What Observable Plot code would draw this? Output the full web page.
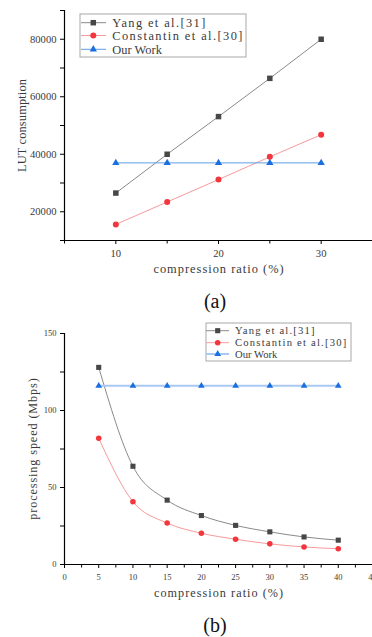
<!DOCTYPE html>
<html><head><meta charset="utf-8">
<script src="https://cdn.jsdelivr.net/npm/d3@7"></script>
<script src="https://cdn.jsdelivr.net/npm/@observablehq/plot@0.6"></script>
<style>
body{margin:0;background:#fff;}
#wrap{position:relative;width:372px;height:637px;overflow:hidden;background:#fff;}
.panel{position:absolute;left:0;}
.cap{position:absolute;left:0;width:372px;text-align:center;font-family:"Liberation Serif","Times New Roman",serif;font-size:20px;line-height:24px;color:#111;}
.legend{position:absolute;}
</style></head><body><div id="wrap"></div>
<script>
// ---------- data ----------
const seriesNames = ["Yang et al.[31]", "Constantin et al.[30]", "Our Work"];
const xTitle = "compression ratio (%)";
const yTitleA = "LUT consumption";
const yTitleB = "processing speed (Mbps)";
const captionA = "(a)";
const captionB = "(b)";

const ratioA = [10, 15, 20, 25, 30];
const lutYang = [26500, 40000, 53100, 66400, 80000];
const lutConstantin = [15600, 23400, 31200, 39100, 46800];
const lutOurs = [37000, 37000, 37000, 37000, 37000];

const ratioB = [5, 10, 15, 20, 25, 30, 35, 40];
const speedYang = [128, 63.8, 41.8, 31.8, 25.4, 21.2, 17.9, 15.8];
const speedConstantin = [82, 40.8, 26.9, 20.3, 16.4, 13.4, 11.4, 10.2];
const speedOurs = [116, 116, 116, 116, 116, 116, 116, 116];

const xDomainA = [5, 35];
const yDomainA = [10000, 90000];
const xTicksA = [10, 20, 30];
const xMinorA = [5, 15, 25, 35];
const yTicksA = [20000, 40000, 60000, 80000];
const yMinorA = [10000, 30000, 50000, 70000, 90000];

const xDomainB = [0, 45];
const yDomainB = [0, 150];
const xTicksB = [0, 5, 10, 15, 20, 25, 30, 35, 40, 45];
const xMinorB = [2.5, 7.5, 12.5, 17.5, 22.5, 27.5, 32.5, 37.5, 42.5];
const yTicksB = [0, 50, 100, 150];
const yMinorB = [25, 75, 125];

// ---------- styles ----------
const markerColors = ["#474747", "#f2363c", "#1a6fe0"];
const lineColorsA = ["#8a8a8a", "#f79a9c", "#5f9de8"];
const lineColorsB = ["#8a8a8a", "#f79a9c", "#a9c9f2"];
const lineWidthsA = [1, 1, 1];
const lineWidthsB = [1, 1, 2];
const symbols = ["square", "circle", "triangle"];
const radii = [3.1, 3, 2.7];
const FONT = "'Liberation Serif', 'Times New Roman', serif";
const TXT = "#3a3a3a";

const wrap = document.getElementById("wrap");

function fitText(node, adv) {
  const t = node.textContent;
  node.setAttribute("textLength", (t.length * adv).toFixed(1));
  node.setAttribute("lengthAdjust", "spacing");
}

function panel(cfg) {
  const {xs, ys, xDomain, yDomain, xTicks, xMinor, yTicks, yMinor, yTitle, yTitleDx,
         lineColors, lineWidths, curve, tickFont, titleFont, titleAdv, height, radiusScale} = cfg;
  const marks = [
    Plot.ruleX([xDomain[0]], {stroke: "#000", strokeWidth: 1.2}),
    Plot.ruleY([yDomain[0]], {stroke: "#000", strokeWidth: 1.2}),
    Plot.axisX(xMinor, {tickSize: 3.5, tickFormat: () => "", label: null, stroke: "#000"}),
    Plot.axisX(xTicks, {tickSize: 4, tickPadding: 5, tickFormat: d => String(d), label: null,
      stroke: "#000", fill: TXT, fontSize: tickFont, fontFamily: FONT}),
    Plot.axisY(yMinor, {tickSize: 4, tickFormat: () => "", label: null, stroke: "#000"}),
    Plot.axisY(yTicks, {tickSize: 4, tickPadding: 4, tickFormat: d => String(d), label: null,
      stroke: "#000", fill: TXT, fontSize: tickFont, fontFamily: FONT}),
    Plot.text([xTitle], {text: d => d, frameAnchor: "bottom", dy: 29, textAnchor: "middle",
      lineAnchor: "middle", fontSize: titleFont, fontFamily: FONT, fill: TXT}),
    Plot.text([yTitle], {text: d => d, frameAnchor: "left", dx: yTitleDx, rotate: -90,
      textAnchor: "middle", lineAnchor: "middle", fontSize: titleFont, fontFamily: FONT, fill: TXT})
  ];
  ys.forEach((yv, i) => {
    marks.push(Plot.line(xs, {x: xs, y: yv, stroke: lineColors[i], strokeWidth: lineWidths[i], curve}));
  });
  ys.forEach((yv, i) => {
    marks.push(Plot.dot(xs, {x: xs, y: yv, symbol: () => symbols[i], r: radii[i] * radiusScale,
      fill: markerColors[i], stroke: "none"}));
  });
  const svg = Plot.plot({
    width: 372, height,
    marginTop: 10, marginLeft: 64, marginRight: 0, marginBottom: 40,
    x: {domain: xDomain},
    y: {domain: yDomain},
    style: {background: "transparent", overflow: "visible"},
    marks
  });
  d3.select(svg).selectAll("text").each(function() {
    if (this.textContent === xTitle || this.textContent === yTitle) fitText(this, titleAdv);
  });
  return svg;
}

function legend(cfg) {
  const {left, top, width, height, rows, lineX0, lineX1, markX, textX, fontSize, adv, lineColors, lineWidths, radiusScale} = cfg;
  const svg = d3.create("svg").attr("class", "legend").attr("width", width + 2).attr("height", height + 2)
    .style("left", (left - 1) + "px").style("top", (top - 1) + "px");
  svg.append("rect").attr("x", 1).attr("y", 1).attr("width", width).attr("height", height)
    .attr("fill", "#fff").attr("stroke", "#a8a8a8").attr("stroke-width", 1);
  const symMap = {square: d3.symbolSquare, circle: d3.symbolCircle, triangle: d3.symbolTriangle};
  seriesNames.forEach((name, i) => {
    const y = rows[i] + 1;
    svg.append("line").attr("x1", lineX0 + 1).attr("x2", lineX1 + 1).attr("y1", y).attr("y2", y)
      .attr("stroke", lineColors[i]).attr("stroke-width", lineWidths[i]);
    const r = radii[i] * radiusScale;
    svg.append("path").attr("d", d3.symbol(symMap[symbols[i]], Math.PI * r * r)())
      .attr("transform", `translate(${markX + 1},${y})`).attr("fill", markerColors[i]);
    const t = svg.append("text").attr("x", textX + 1).attr("y", y).attr("dy", "0.35em")
      .attr("font-family", FONT).attr("font-size", fontSize).attr("fill", TXT).text(name);
    fitText(t.node(), adv);
  });
  return svg.node();
}

// ---------- panel (a) ----------
const divA = document.createElement("div");
divA.className = "panel"; divA.style.top = "0px";
divA.appendChild(panel({
  xs: ratioA, ys: [lutYang, lutConstantin, lutOurs],
  xDomain: xDomainA, yDomain: yDomainA, xTicks: xTicksA, xMinor: xMinorA,
  yTicks: yTicksA, yMinor: yMinorA, yTitle: yTitleA, yTitleDx: -42,
  lineColors: lineColorsA, lineWidths: lineWidthsA, curve: "linear",
  tickFont: 10.6, titleFont: 12.4, titleAdv: 6.2, height: 280, radiusScale: 1
}));
wrap.appendChild(divA);
wrap.appendChild(legend({
  left: 80, top: 14, width: 166, height: 43, rows: [8.7, 21.5, 35.3],
  lineX0: 1, lineX1: 26, markX: 13.3, textX: 32.3, fontSize: 12.4, adv: 6.2,
  lineColors: lineColorsA, lineWidths: lineWidthsA, radiusScale: 1
}));
const capA = document.createElement("div");
capA.className = "cap"; capA.style.top = "289px"; capA.style.paddingLeft = "58px"; capA.style.width = "314px";
capA.textContent = captionA;
wrap.appendChild(capA);

// ---------- panel (b) ----------
const divB = document.createElement("div");
divB.className = "panel"; divB.style.top = "323px";
divB.appendChild(panel({
  xs: ratioB, ys: [speedYang, speedConstantin, speedOurs],
  xDomain: xDomainB, yDomain: yDomainB, xTicks: xTicksB, xMinor: xMinorB,
  yTicks: yTicksB, yMinor: yMinorB, yTitle: yTitleB, yTitleDx: -31,
  lineColors: lineColorsB, lineWidths: lineWidthsB, curve: "monotone-x",
  tickFont: 8.5, titleFont: 12.2, titleAdv: 6.15, height: 281, radiusScale: 0.93
}));
wrap.appendChild(divB);
wrap.appendChild(legend({
  left: 206, top: 323, width: 145, height: 38, rows: [7.7, 19.7, 31],
  lineX0: 0, lineX1: 23, markX: 11.7, textX: 29, fontSize: 10.6, adv: 5.3,
  lineColors: lineColorsB, lineWidths: lineWidthsB, radiusScale: 0.93
}));
const capB = document.createElement("div");
capB.className = "cap"; capB.style.top = "613px"; capB.style.paddingLeft = "58px"; capB.style.width = "314px";
capB.textContent = captionB;
wrap.appendChild(capB);
</script>
</body></html>
